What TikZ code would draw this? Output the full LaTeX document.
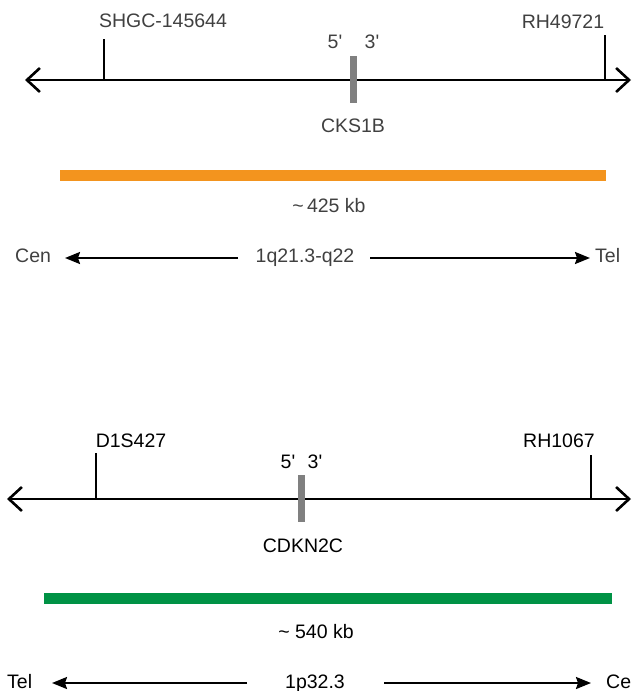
\documentclass[tikz,border=0pt]{standalone}
\usepackage{fontspec}
\setmainfont{Liberation Sans}
\usetikzlibrary{arrows.meta,positioning}
\definecolor{kborange}{RGB}{243,148,30}
\definecolor{kbgreen}{RGB}{0,146,69}
\begin{document}
\begin{tikzpicture}[x=1pt,y=-1pt,
     lbl/.style={inner sep=0pt,anchor=base,font=\fontsize{19.5}{22}\selectfont},
     toplbl/.style={lbl,text=black!75},
     chrom/.style={line width=2.6pt,{Straight Barb[length=13pt,width=24pt]}-{Straight Barb[length=13pt,width=24pt]}},
     marker/.style={line width=1.6pt},
     gene/.style={line width=7pt,draw=gray},
     span/.style={line width=11pt},
     orient/.style={line width=2pt,-{Stealth[length=15pt,width=12pt,inset=2pt]}}
     ]
\useasboundingbox (0,0) rectangle (633,691);

%Top panel: CKS1B on 1q21.3-q22
\coordinate (qL) at (25,80);
\coordinate (qR) at (631,80);
\draw[chrom] (qL) -- (qR);

%Markers
\node[toplbl] (shgc) at (163,27) {SHGC-145644};
\node[toplbl] (rh49) at (563,28) {RH49721};
\coordinate (shgcT) at (104,39);
\coordinate (rh49T) at (605,35);
\draw[marker] (shgcT) -- (shgcT |- qL);
\draw[marker] (rh49T) -- (rh49T |- qL);

%Gene
\coordinate (cksT) at (353,56);
\coordinate (cksB) at (353,103);
\draw[gene] (cksT) -- (cksB);
\node[toplbl] (ck5) at (335,48) {5\textquotesingle};
\node[toplbl] (ck3) at (372,48) {3\textquotesingle};
\node[toplbl] (cks) at (353,132) {CKS1B};

%Span
\coordinate (qsL) at (60,175);
\coordinate (qsR) at (606,175);
\draw[span,kborange] (qsL) -- (qsR);
\node[toplbl] (qkb) at (329,212) {\textasciitilde\,425 kb};

%Orientation
\node[toplbl,anchor=base west] (qcen) at (15,262) {Cen};
\node[toplbl] (qband) at (305,262) {1q21.3-q22};
\node[toplbl,anchor=base west] (qtel) at (595,262) {Tel};
\coordinate (qa1) at (238,258);
\coordinate (qa2) at (65,258);
\coordinate (qa3) at (370,258);
\coordinate (qa4) at (590,258);
\draw[orient] (qa1) -- (qa2);
\draw[orient] (qa3) -- (qa4);

%Bottom panel: CDKN2C on 1p32.3
\coordinate (pL) at (7,499);
\coordinate (pR) at (631,499);
\draw[chrom] (pL) -- (pR);

%Markers
\node[lbl] (d1s) at (131,447) {D1S427};
\node[lbl] (rh10) at (559,447) {RH1067};
\coordinate (d1sT) at (96,453);
\coordinate (rh10T) at (591,455);
\draw[marker] (d1sT) -- (d1sT |- pL);
\draw[marker] (rh10T) -- (rh10T |- pL);

%Gene
\coordinate (cdkT) at (301,475);
\coordinate (cdkB) at (301,522);
\draw[gene] (cdkT) -- (cdkB);
\node[lbl] (cd5) at (288,468) {5\textquotesingle};
\node[lbl] (cd3) at (315,468) {3\textquotesingle};
\node[lbl] (cdk) at (303,552) {CDKN2C};

%Span
\coordinate (psL) at (44,598);
\coordinate (psR) at (612,598);
\draw[span,kbgreen] (psL) -- (psR);
\node[lbl] (pkb) at (316,638) {\textasciitilde{} 540 kb};

%Orientation
\node[lbl,anchor=base west] (ptel) at (7,688) {Tel};
\node[lbl] (pband) at (315,688) {1p32.3};
\node[lbl,anchor=base west] (pcen) at (606,688) {Ce};
\coordinate (pa1) at (247,683);
\coordinate (pa2) at (52,683);
\coordinate (pa3) at (384,683);
\coordinate (pa4) at (591,683);
\draw[orient] (pa1) -- (pa2);
\draw[orient] (pa3) -- (pa4);
\end{tikzpicture}
\end{document}
